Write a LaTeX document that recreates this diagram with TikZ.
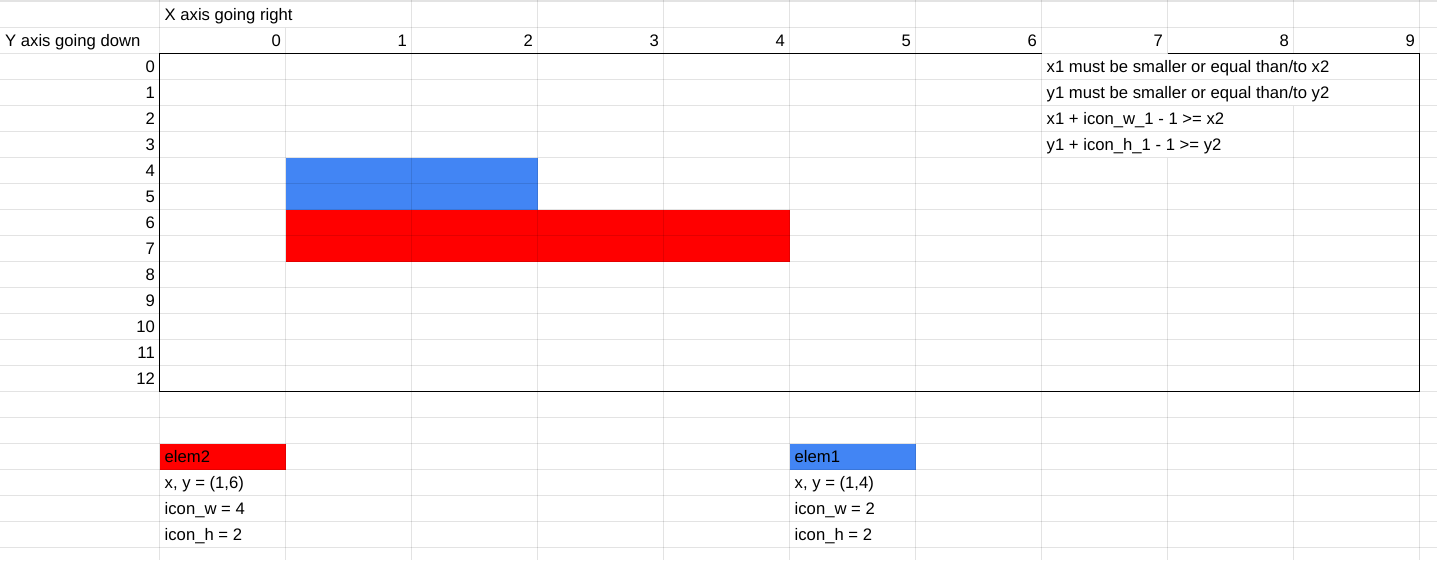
\documentclass[tikz,border=0pt]{standalone}
\usepackage{fontspec}
\setmainfont{Liberation Sans}
\definecolor{cellblue}{HTML}{4285F4}
\definecolor{cellred}{HTML}{FF0000}
\def \cw{126}
\def \rh{26}

\begin{document}
\begin{tikzpicture}[x=1pt, y=-1pt,
    grid/.style={black, opacity=0.11, line width=1pt},
    frame/.style={black, line width=1.6pt},
    txt/.style={anchor=base west, inner sep=0pt, font=\fontsize{16.67}{20}\selectfont},
    num/.style={anchor=base east, inner sep=0pt, font=\fontsize{16.67}{20}\selectfont}]
  \useasboundingbox (0,0) rectangle (1437,560);
  \fill[white] (0,0) rectangle (1437,560);

  % filled cells
  \fill[cellblue] (285.5,157.5) rectangle (537.5,209.5);
  \fill[cellred] (285.5,209.5) rectangle (789.5,261.5);
  \fill[cellred] (159.5,443.5) rectangle (285.5,469.5);
  \fill[cellblue] (789.5,443.5) rectangle (915.5,469.5);

  % sheet grid
  \draw[grid, line width=2pt] (0,1) -- (1437,1);
  \foreach \j in {0,...,20}
    \draw[grid] (0,27.5+\j*\rh) -- (1437,27.5+\j*\rh);
  \draw[grid] (159.5,0) -- (159.5,560);
  \draw[grid] (285.5,27.5) -- (285.5,560);
  \foreach \i in {2,...,7}
    \draw[grid] (159.5+\i*\cw,0) -- (159.5+\i*\cw,560);
  \draw[grid] (1167.5,0) -- (1167.5,53.5);
  \draw[grid] (1167.5,157.5) -- (1167.5,560);
  \draw[grid] (1293.5,0) -- (1293.5,53.5);
  \draw[grid] (1293.5,105.5) -- (1293.5,560);
  \draw[grid] (1419.5,0) -- (1419.5,560);

  % border round the board
  \draw[frame] (1041.5,53.5) -- (159.5,53.5) -- (159.5,391.5) -- (1419.5,391.5)
    -- (1419.5,53.5) -- (1167.5,53.5);

  \node[txt] (xaxis) at (164.5,20.5) {X axis going right};
  \node[txt] (yaxis) at (5,46.5) {Y axis going down};
  \foreach \i in {0,...,9}
    \node[num] (cx\i) at (281+\i*\cw,46.5) {\i};
  \foreach \j in {0,...,12}
    \node[num] (ry\j) at (155,72.5+\j*\rh) {\j};

  \node[txt] (rule1) at (1046.5,72.5) {x1 must be smaller or equal than/to x2};
  \node[txt] (rule2) at (1046.5,98.5) {y1 must be smaller or equal than/to y2};
  \node[txt] (rule3) at (1046.5,124.5) {x1 + icon\_w\_1 - 1 >= x2};
  \node[txt] (rule4) at (1046.5,150.5) {y1 + icon\_h\_1 - 1 >= y2};

  \node[txt] (elemtwo) at (164.5,462.5) {elem2};
  \node[txt] (elemtwoxy) at (164.5,488.5) {x, y = (1,6)};
  \node[txt] (elemtwow) at (164.5,514.5) {icon\_w = 4};
  \node[txt] (elemtwoh) at (164.5,540.5) {icon\_h = 2};

  \node[txt] (elemone) at (794.5,462.5) {elem1};
  \node[txt] (elemonexy) at (794.5,488.5) {x, y = (1,4)};
  \node[txt] (elemonew) at (794.5,514.5) {icon\_w = 2};
  \node[txt] (elemoneh) at (794.5,540.5) {icon\_h = 2};
\end{tikzpicture}
\end{document}
